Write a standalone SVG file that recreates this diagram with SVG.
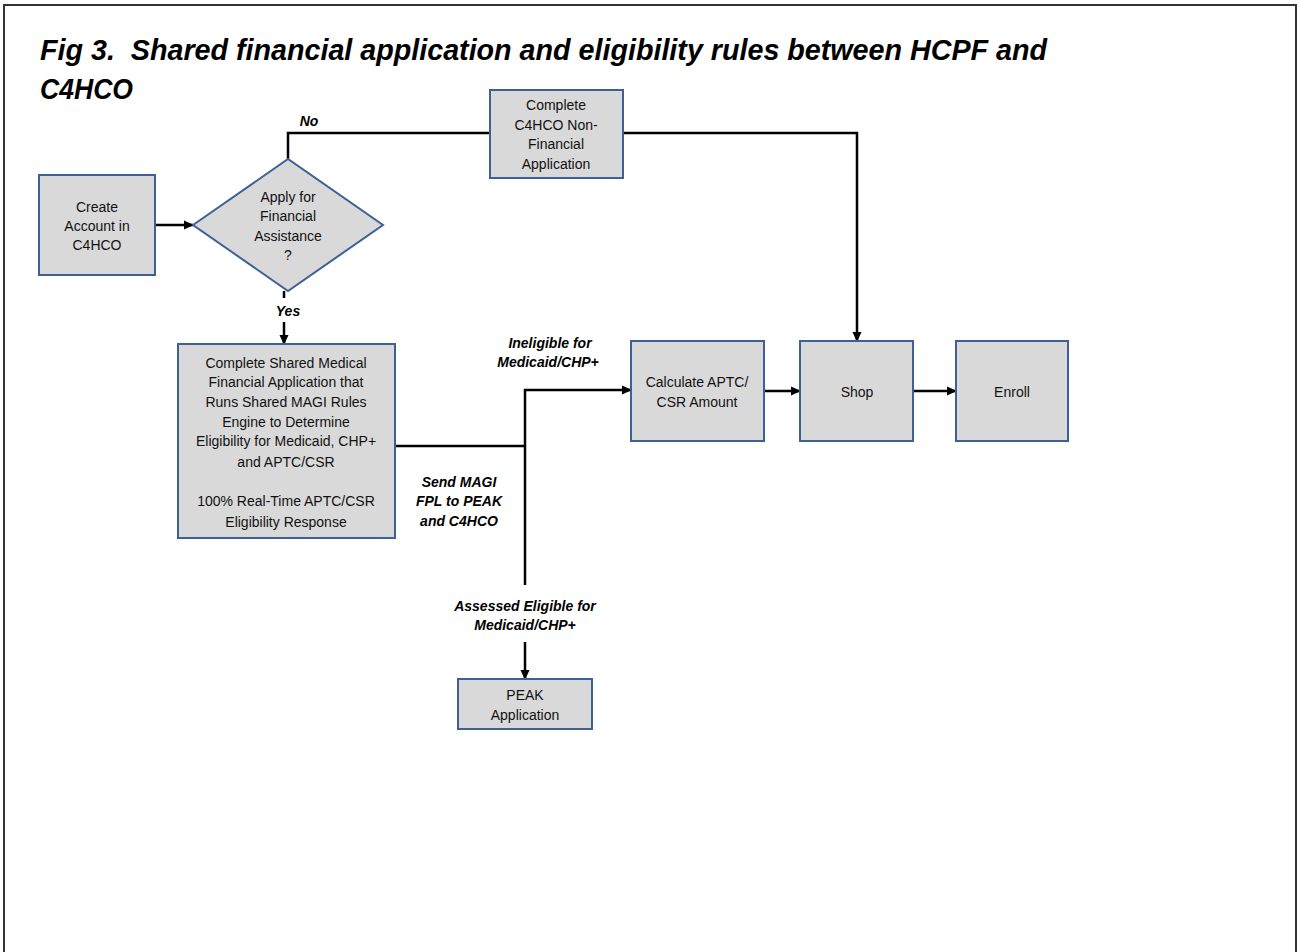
<svg xmlns="http://www.w3.org/2000/svg" width="1298" height="952" viewBox="0 0 1298 952">
<style>
.box{fill:#d9d9d9;stroke:#3d6096;stroke-width:2}
.t{font-family:"Liberation Sans",Arial,sans-serif;font-size:14px;fill:#111;text-anchor:middle}
.l{font-family:"Liberation Sans",Arial,sans-serif;font-size:14px;font-weight:bold;font-style:italic;fill:#000;text-anchor:middle}
.c{fill:none;stroke:#000;stroke-width:2.5}
.title{font-family:"Liberation Sans",Arial,sans-serif;font-size:29px;font-weight:bold;font-style:italic;fill:#000}
</style>
<defs>
<marker id="ah" markerWidth="10" markerHeight="10" refX="9" refY="5" orient="auto" markerUnits="userSpaceOnUse">
<path d="M0,0.5 L10,5 L0,9.5 z" fill="#000"/>
</marker>
</defs>
<rect width="1298" height="952" fill="#fff"/>
<path d="M4,952 V5 H1296 V952" fill="none" stroke="#333" stroke-width="2"/>
<text class="title" x="40" y="60" textLength="1007" lengthAdjust="spacingAndGlyphs" xml:space="preserve">Fig 3.  Shared financial application and eligibility rules between HCPF and</text>
<text class="title" x="40" y="99" textLength="93" lengthAdjust="spacingAndGlyphs">C4HCO</text>

<g id="connectors">
<line class="c" x1="155" y1="225" x2="193" y2="225" marker-end="url(#ah)"/>
<polyline class="c" points="288,159 288,133 490,133"/>
<polyline class="c" points="623,133 857,133 857,341" marker-end="url(#ah)"/>
<line class="c" x1="284" y1="291" x2="284" y2="298"/>
<line class="c" x1="284" y1="322" x2="284" y2="344" marker-end="url(#ah)"/>
<line class="c" x1="395" y1="446" x2="525" y2="446"/>
<polyline class="c" points="525,585 525,390 631,390" marker-end="url(#ah)"/>
<line class="c" x1="525" y1="642" x2="525" y2="679" marker-end="url(#ah)"/>
<line class="c" x1="764" y1="391" x2="800" y2="391" marker-end="url(#ah)"/>
<line class="c" x1="913" y1="391" x2="956" y2="391" marker-end="url(#ah)"/>
<text class="l" x="309" y="126">No</text>
<text class="l" x="288" y="316">Yes</text>
<text class="l" x="550" y="348">Ineligible for</text>
<text class="l" x="548" y="367">Medicaid/CHP+</text>
<text class="l" x="459" y="487">Send MAGI</text>
<text class="l" x="459" y="506">FPL to PEAK</text>
<text class="l" x="459" y="526">and C4HCO</text>
<text class="l" x="525" y="611">Assessed Eligible for</text>
<text class="l" x="525" y="630">Medicaid/CHP+</text>
</g>

<g id="create">
<rect class="box" x="39" y="175" width="116" height="100"/>
<text class="t" x="97" y="212">Create</text>
<text class="t" x="97" y="231">Account in</text>
<text class="t" x="97" y="250">C4HCO</text>
</g>
<g id="decision">
<polygon class="box" points="193,225 288,159 383,225 288,291"/>
<text class="t" x="288" y="202">Apply for</text>
<text class="t" x="288" y="221">Financial</text>
<text class="t" x="288" y="241">Assistance</text>
<text class="t" x="288" y="260">?</text>
</g>
<g id="nonfinancial">
<rect class="box" x="490" y="90" width="133" height="88"/>
<text class="t" x="556" y="110">Complete</text>
<text class="t" x="556" y="130">C4HCO Non-</text>
<text class="t" x="556" y="149">Financial</text>
<text class="t" x="556" y="169">Application</text>
</g>
<g id="shared">
<rect class="box" x="178" y="344" width="217" height="194"/>
<text class="t" x="286" y="368">Complete Shared Medical</text>
<text class="t" x="286" y="387">Financial Application that</text>
<text class="t" x="286" y="407">Runs Shared MAGI Rules</text>
<text class="t" x="286" y="427">Engine to Determine</text>
<text class="t" x="286" y="446">Eligibility for Medicaid, CHP+</text>
<text class="t" x="286" y="467">and APTC/CSR</text>
<text class="t" x="286" y="506">100% Real-Time APTC/CSR</text>
<text class="t" x="286" y="527">Eligibility Response</text>
</g>
<g id="calculate">
<rect class="box" x="631" y="341" width="133" height="100"/>
<text class="t" x="697" y="387">Calculate APTC/</text>
<text class="t" x="697" y="407">CSR Amount</text>
</g>
<g id="shop">
<rect class="box" x="800" y="341" width="113" height="100"/>
<text class="t" x="857" y="397">Shop</text>
</g>
<g id="enroll">
<rect class="box" x="956" y="341" width="112" height="100"/>
<text class="t" x="1012" y="397">Enroll</text>
</g>
<g id="peak">
<rect class="box" x="458" y="679" width="134" height="50"/>
<text class="t" x="525" y="700">PEAK</text>
<text class="t" x="525" y="720">Application</text>
</g>
</svg>
